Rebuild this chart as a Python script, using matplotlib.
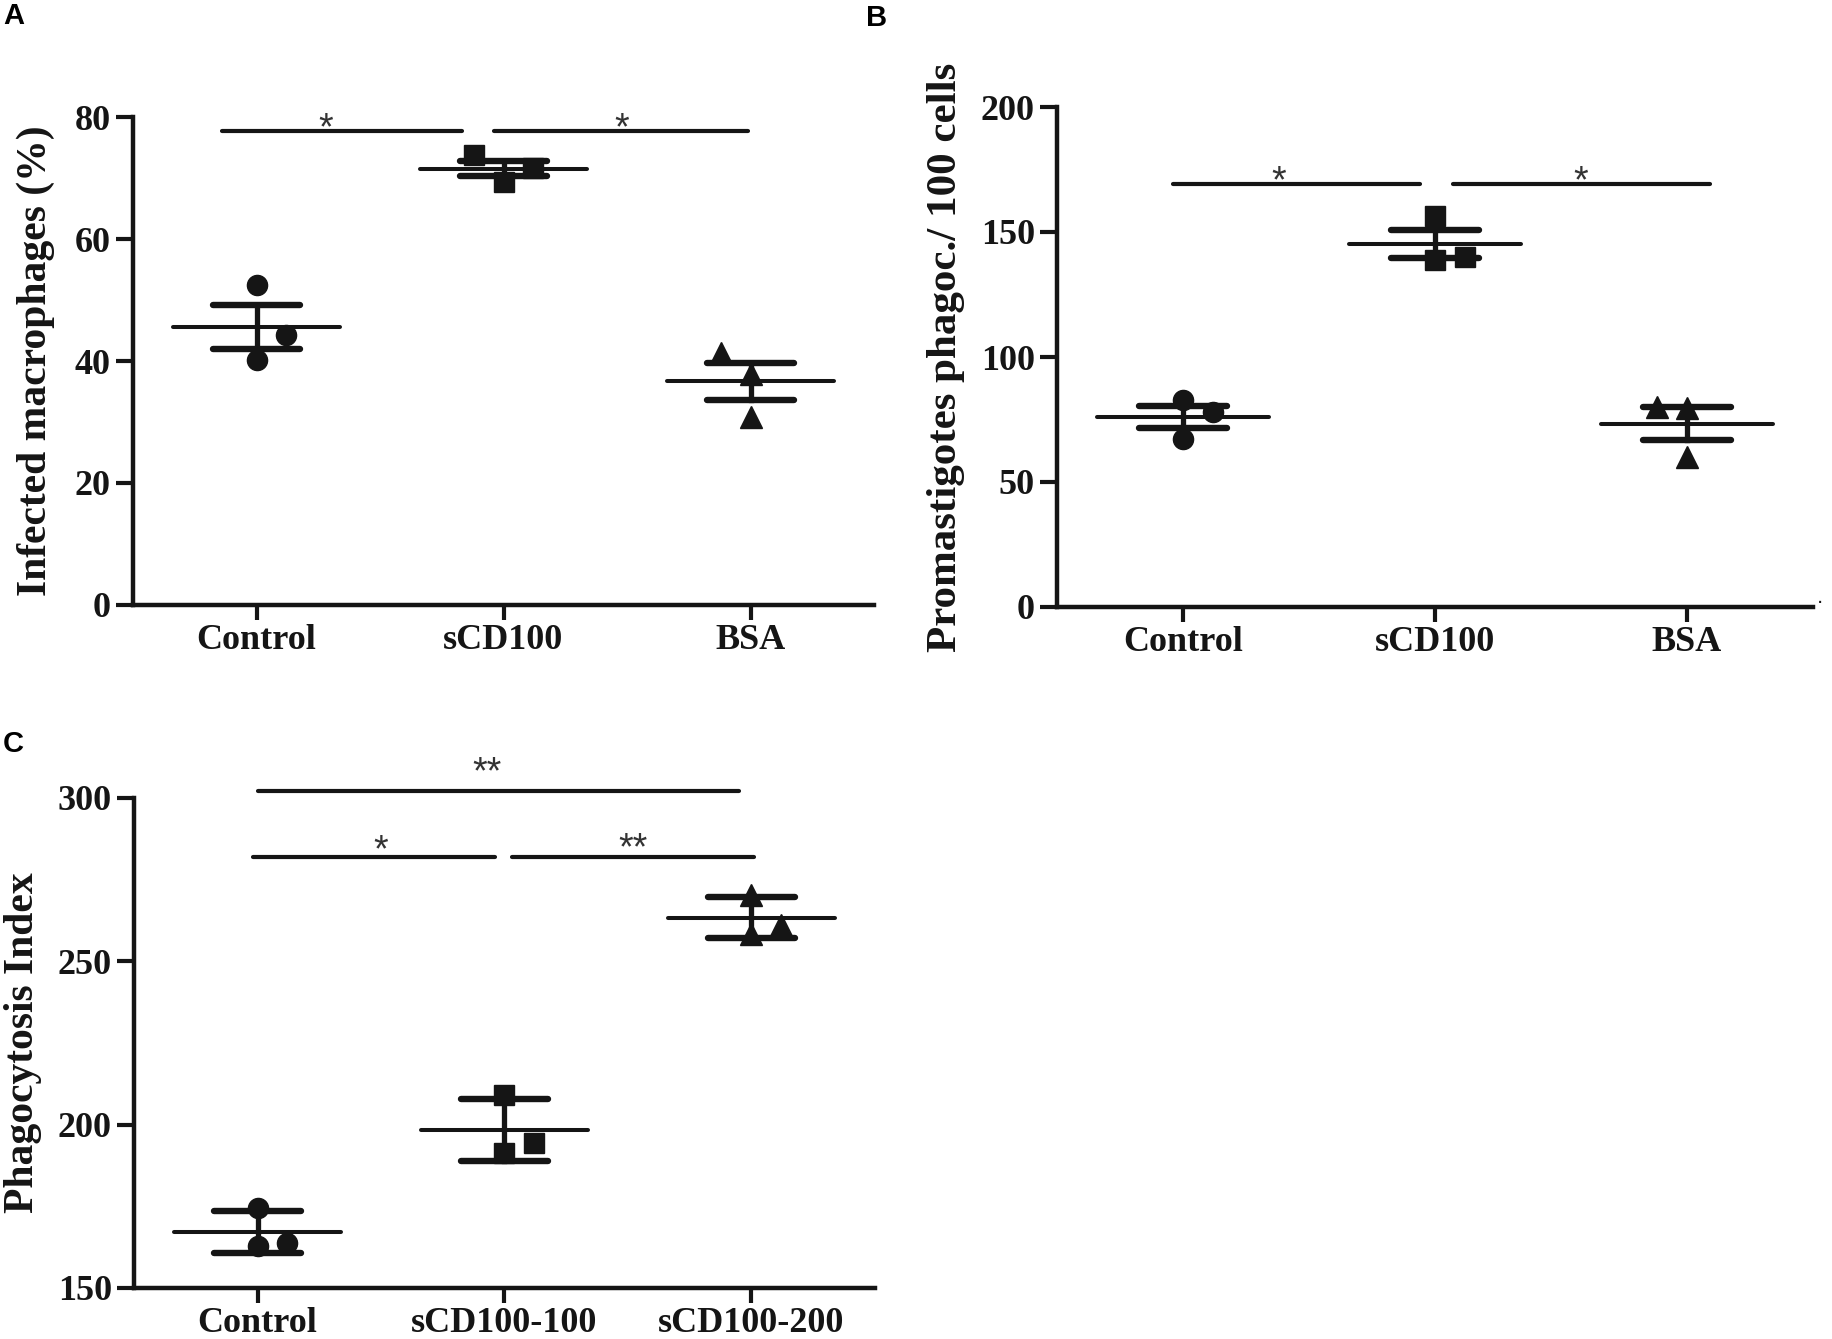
import numpy as np
import matplotlib
matplotlib.use("Agg")
import matplotlib.pyplot as plt

# ---- data ----
# Panel A: infected macrophages (%), mean +/- SEM
a_groups = ["Control", "sCD100", "BSA"]
a_control = [52.4, 44.2, 40.2]
a_scd100 = [73.7, 71.6, 69.3]
a_bsa = [41.3, 37.8, 30.9]

# Panel B: promastigotes phagocytosed / 100 cells, mean +/- SEM
b_groups = ["Control", "sCD100", "BSA"]
b_control = [82.7, 78.0, 67.3]
b_scd100 = [156.3, 140.2, 138.9]
b_bsa = [80.0, 79.7, 60.1]

# Panel C: phagocytosis index, mean +/- SD
c_groups = ["Control", "sCD100-100", "sCD100-200"]
c_control = [174.6, 163.9, 162.8]
c_scd100_100 = [209.2, 194.4, 191.3]
c_scd100_200 = [270.4, 261.1, 258.4]

# significance bars: (x start, x end, y, label, label x, label y)
a_sig = [(-0.14, 0.83, 77.7, "*", 0.28, 80.0),
         (0.96, 1.99, 77.7, "*", 1.48, 80.0)]
b_sig = [(-0.04, 0.94, 169.0, "*", 0.38, 174.6),
         (1.07, 2.09, 169.0, "*", 1.58, 174.6)]
c_sig = [(0.0, 1.95, 302.0, "**", 0.93, 311.3),
         (-0.02, 0.96, 282.0, "*", 0.50, 287.5),
         (1.03, 2.01, 282.0, "**", 1.52, 288.0)]

# horizontal placement of the three dots in each column (scatter jitter)
a_jitter = [[0, 0.12, 0], [-0.12, 0.12, 0], [-0.12, 0, 0]]
b_jitter = [[0, 0.12, 0], [0, 0.12, 0], [-0.12, 0, 0]]
c_jitter = [[0, 0.12, 0], [0, 0.12, 0], [0, 0.12, 0]]

markers = ["o", "s", "^"]
msizes = [14.5, 14.5, 15.5]

W, H = 1832, 1339
INK = "#151515"
SERIF = "Liberation Serif"
SANS = "Liberation Sans"


def add_axes(fig, left, top, right, bottom):
    return fig.add_axes([left / W, 1 - bottom / H, (right - left) / W, (bottom - top) / H])


def draw_panel(ax, groups, columns, jitter, err_kind, ylim, yticks, ylabel, sig,
               label_x, label_size=30):
    for i, vals in enumerate(columns):
        vals = np.array(vals)
        mean = vals.mean()
        sd = vals.std(ddof=1)
        err = sd / np.sqrt(len(vals)) if err_kind == "sem" else sd
        xs = [i + j for j in jitter[i]]
        ax.plot(xs, vals, linestyle="none", marker=markers[i], ms=msizes[i],
                color=INK, mec=INK, zorder=3, clip_on=False)
        ax.plot([i - 0.34, i + 0.34], [mean, mean], color=INK, lw=2.9,
                solid_capstyle="round", zorder=4)
        ax.plot([i, i], [mean - err, mean + err], color=INK, lw=3.8, zorder=4)
        for y in (mean - err, mean + err):
            ax.plot([i - 0.175, i + 0.175], [y, y], color=INK, lw=4.6,
                    solid_capstyle="round", zorder=4)

    fs_star = 27
    for x1, x2, y, txt, tx, ty in sig:
        ax.plot([x1, x2], [y, y], color=INK, lw=3.0, solid_capstyle="round",
                clip_on=False)
        ax.annotate(txt, xy=(tx, ty), xytext=(0, -0.59 * fs_star),
                    textcoords="offset points", ha="center", va="baseline",
                    fontsize=fs_star, family=SANS, color="#333333",
                    annotation_clip=False)

    ax.set_xlim(-0.5, 2.5)
    ax.set_ylim(*ylim)
    ax.set_yticks(yticks)
    ax.set_xticks(range(len(groups)))
    ax.set_xticklabels(groups)
    for s in ("top", "right"):
        ax.spines[s].set_visible(False)
    for s in ("left", "bottom"):
        ax.spines[s].set_linewidth(3.2)
        ax.spines[s].set_color(INK)
    ax.tick_params(axis="y", length=12, width=3.0, pad=4, color=INK)
    ax.tick_params(axis="x", length=11, width=3.0, pad=3, color=INK)
    for t in ax.get_xticklabels() + ax.get_yticklabels():
        t.set_fontfamily(SERIF)
        t.set_fontweight("bold")
        t.set_fontsize(26)
        t.set_color(INK)
    ax.set_ylabel(ylabel, family=SERIF, fontweight="bold", fontsize=label_size, color=INK)
    ax.yaxis.set_label_coords(label_x, 0.5)


fig = plt.figure(figsize=(W / 100, H / 100), dpi=100)

ax_a = add_axes(fig, 133, 117, 874, 605)
draw_panel(ax_a, a_groups, [a_control, a_scd100, a_bsa], a_jitter, "sem",
           (0, 80), [0, 20, 40, 60, 80], "Infected macrophages (%)", a_sig, -0.105)

ax_b = add_axes(fig, 1057, 107, 1813, 607)
draw_panel(ax_b, b_groups, [b_control, b_scd100, b_bsa], b_jitter, "sem",
           (0, 200), [0, 50, 100, 150, 200], "Promastigotes phagoc./ 100 cells", b_sig,
           -0.122, label_size=31)
ax_b.text(1.009, 0, ".", transform=ax_b.transAxes, fontsize=14, color=INK,
          ha="center", va="bottom")

ax_c = add_axes(fig, 134, 798, 875, 1288)
draw_panel(ax_c, c_groups, [c_control, c_scd100_100, c_scd100_200], c_jitter, "sd",
           (150, 300), [150, 200, 250, 300], "Phagocytosis Index", c_sig, -0.124)

for letter, x, y in (("A", 3, 2), ("B", 866, 4), ("C", 3, 730)):
    fig.text(x / W, 1 - y / H, letter, ha="left", va="top", fontsize=21,
             fontweight="bold", family=SANS, color="black")

fig.savefig("out.png", dpi=100)
